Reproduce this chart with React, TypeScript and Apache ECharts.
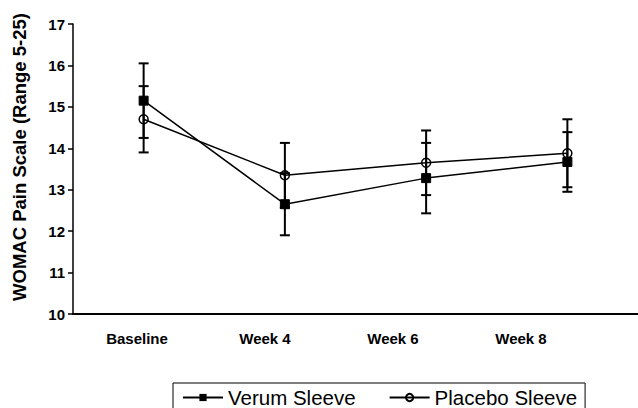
import React, { useEffect, useRef } from "react";
import * as echarts from "echarts";

const categories = ["Baseline", "Week 4", "Week 6", "Week 8"];
const verumMean = [15.15, 12.65, 13.28, 13.67];
const verumSD = [0.9, 0.75, 0.85, 0.72];
const placeboMean = [14.7, 13.35, 13.65, 13.88];
const placeboSD = [0.8, 0.78, 0.78, 0.82];
const yMin = 10;
const yMax = 17;
const yInterval = 1;
const yTitle = "WOMAC Pain Scale (Range 5-25)";
const seriesNames = ["Verum Sleeve", "Placebo Sleeve"];

const FONT = "'Liberation Sans', Arial, sans-serif";

function errorData(mean: number[], sd: number[]) {
  return mean.map((m, i) => [i, m - sd[i], m + sd[i]]);
}

function renderErr(params: any, api: any) {
  const x = api.value(0);
  const lo = api.coord([x, api.value(1)]);
  const hi = api.coord([x, api.value(2)]);
  const hw = 5;
  const style = { stroke: "#000", lineWidth: 2 };
  return {
    type: "group",
    children: [
      { type: "line", shape: { x1: lo[0], y1: lo[1], x2: hi[0], y2: hi[1] }, style },
      { type: "line", shape: { x1: lo[0] - hw, y1: lo[1], x2: lo[0] + hw, y2: lo[1] }, style },
      { type: "line", shape: { x1: hi[0] - hw, y1: hi[1], x2: hi[0] + hw, y2: hi[1] }, style },
    ],
  };
}

export default function App() {
  const ref = useRef<HTMLDivElement>(null);
  useEffect(() => {
    if (!ref.current) return;
    const chart = echarts.init(ref.current, undefined, { renderer: "svg" });
    chart.setOption({
      animation: false,
      backgroundColor: "#fff",
      grid: [
        { left: 73, top: 24, width: 570, height: 290 },
        { left: 73, top: 24, width: 512, height: 290 },
      ],
      xAxis: [
        {
          type: "category",
          gridIndex: 0,
          data: categories,
          boundaryGap: true,
          axisLine: { lineStyle: { color: "#000", width: 2 } },
          axisTick: { show: false },
          axisLabel: { show: false },
          splitLine: { show: false },
        },
        {
          type: "category",
          gridIndex: 1,
          data: categories,
          boundaryGap: true,
          axisLine: { show: false },
          axisTick: { show: false },
          axisLabel: {
            show: true,
            margin: 17,
            color: "#000",
            fontFamily: FONT,
            fontWeight: "bold",
            fontSize: 15,
          },
        },
      ],
      yAxis: [
        {
          type: "value",
          gridIndex: 0,
          min: yMin,
          max: yMax,
          interval: yInterval,
          axisLine: { show: true, lineStyle: { color: "#000", width: 1.5 } },
          axisTick: { show: true, length: 5, lineStyle: { color: "#000", width: 1.5 } },
          axisLabel: {
            color: "#000",
            fontFamily: FONT,
            fontWeight: "bold",
            fontSize: 15,
            margin: 8,
          },
          splitLine: { show: false },
        },
        {
          type: "value",
          gridIndex: 1,
          min: yMin,
          max: yMax,
          show: false,
        },
      ],
      legend: {
        data: seriesNames,
        left: 173,
        top: 383,
        orient: "horizontal",
        borderColor: "#000",
        borderWidth: 1,
        borderRadius: 0,
        padding: [4, 8, 20, 9],
        itemWidth: 40,
        itemHeight: 9,
        itemGap: 33,
        textStyle: { color: "#000", fontFamily: FONT, fontSize: 20.5 },
      },
      graphic: [
        {
          type: "text",
          x: 19,
          y: 157,
          rotation: Math.PI / 2,
          style: {
            text: yTitle,
            fill: "#000",
            font: `bold 18.5px ${FONT}`,
            textAlign: "center",
            textVerticalAlign: "middle",
          },
        },
      ],
      series: [
        {
          name: seriesNames[0],
          type: "line",
          data: verumMean,
          symbol: "rect",
          symbolSize: 9,
          lineStyle: { color: "#000", width: 1.5 },
          itemStyle: { color: "#000", borderColor: "#000" },
          z: 3,
        },
        {
          name: seriesNames[1],
          type: "line",
          data: placeboMean,
          symbol: "circle",
          symbolSize: 9,
          lineStyle: { color: "#000", width: 1.5 },
          itemStyle: { color: "rgba(255,255,255,0)", borderColor: "#000", borderWidth: 1.5 },
          z: 3,
        },
        {
          type: "custom",
          renderItem: renderErr,
          data: errorData(verumMean, verumSD),
          encode: { x: 0, y: [1, 2] },
          z: 2,
        },
        {
          type: "custom",
          renderItem: renderErr,
          data: errorData(placeboMean, placeboSD),
          encode: { x: 0, y: [1, 2] },
          z: 2,
        },
      ],
    });
    return () => chart.dispose();
  }, []);
  return (
    <div
      ref={ref}
      style={{ position: "fixed", left: 0, top: 0, width: 638, height: 408, background: "#fff" }}
    />
  );
}
